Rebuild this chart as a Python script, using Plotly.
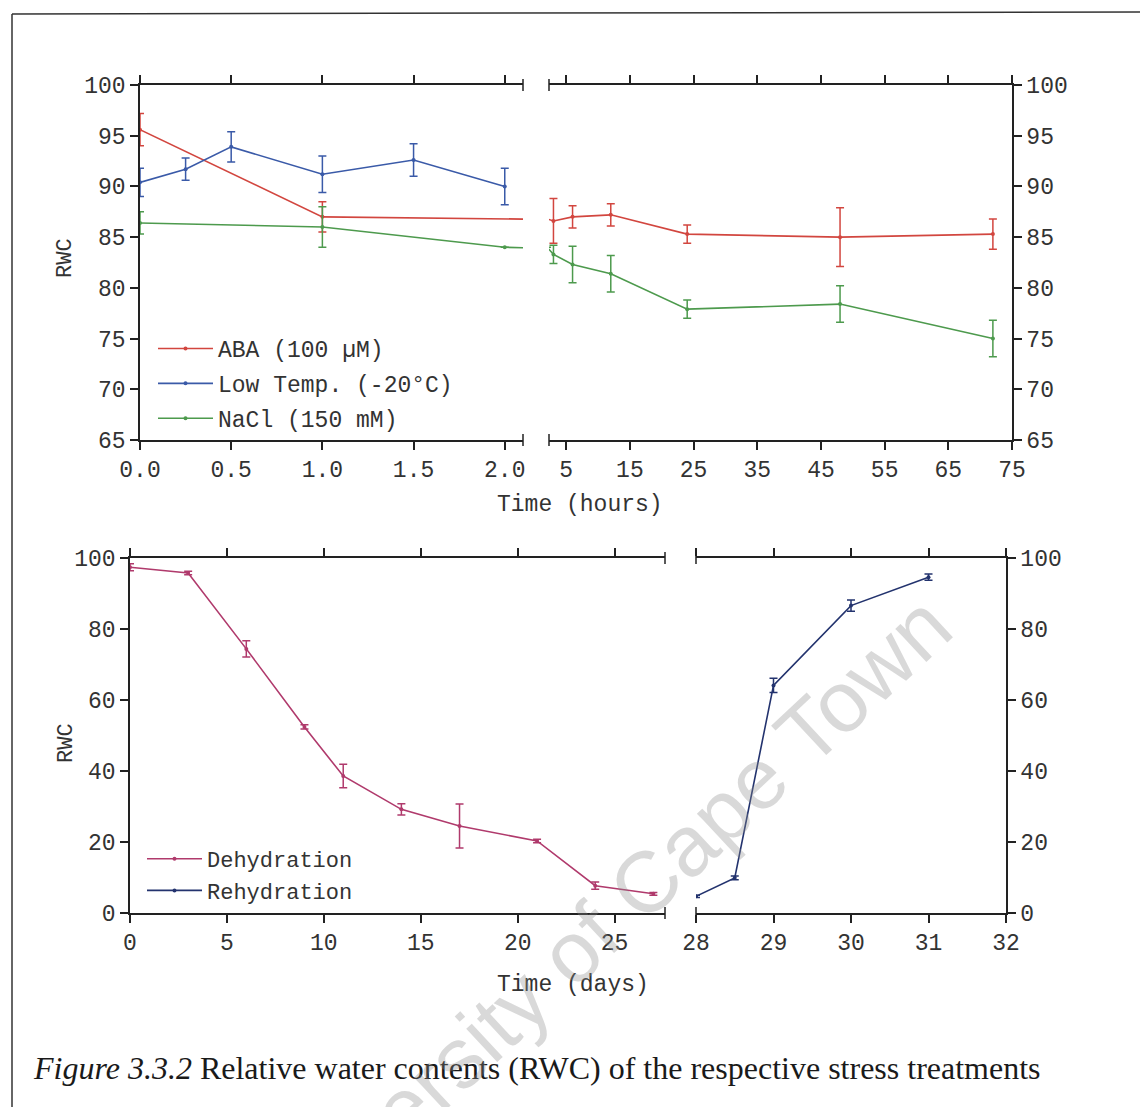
import plotly.graph_objects as go

# ---------------- data ----------------
hours_aba = [0, 1, 3, 6, 12, 24, 48, 72]
aba_rwc = [95.6, 87.0, 86.6, 87.0, 87.2, 85.3, 85.0, 85.3]
aba_err = [1.6, 1.5, 2.2, 1.1, 1.1, 0.9, 2.9, 1.5]

hours_lt = [0, 0.25, 0.5, 1.0, 1.5, 2.0]
lt_rwc = [90.4, 91.7, 93.9, 91.2, 92.6, 90.0]
lt_err = [1.4, 1.1, 1.5, 1.8, 1.6, 1.8]

hours_nacl = [0, 1, 2, 3, 6, 12, 24, 48, 72]
nacl_rwc = [86.4, 86.0, 84.0, 83.3, 82.3, 81.4, 77.9, 78.4, 75.0]
nacl_err = [1.1, 2.0, 0.0, 0.9, 1.8, 1.8, 0.9, 1.8, 1.8]

days_dehyd = [0, 3, 6, 9, 11, 14, 17, 21, 24, 27]
dehyd_rwc = [97.4, 95.8, 74.4, 52.4, 38.6, 29.2, 24.5, 20.3, 7.7, 5.4]
dehyd_err = [1.0, 0.5, 2.3, 0.6, 3.3, 1.6, 6.2, 0.5, 1.0, 0.4]

days_rehyd = [28, 28.5, 29, 30, 31]
rehyd_rwc = [4.7, 9.9, 64.1, 86.6, 94.6]
rehyd_err = [0.3, 0.5, 2.0, 1.6, 0.9]

names_top = ["ABA (100 \u00b5M)", "Low Temp. (-20\u00b0C)", "NaCl (150 mM)"]
names_bot = ["Dehydration", "Rehydration"]

c_aba = "#d2463f"
c_lt = "#3a5aa8"
c_nacl = "#4d9a4d"
c_de = "#b03a6c"
c_re = "#23336e"

W, H = 1140, 1107
def px(v): return v / W
def py(v): return 1 - v / H

MONO = "Liberation Mono"
FS = 23

fig = go.Figure()

def add(xs, ys, err, color, name, xa, ya, show, legend, group):
    fig.add_trace(go.Scatter(
        x=xs, y=ys, mode="lines+markers", name=name,
        line=dict(color=color, width=1.6),
        marker=dict(size=4, color=color),
        error_y=dict(type="data", array=err, color=color, thickness=1.5, width=4),
        xaxis=xa, yaxis=ya, showlegend=show, legend=legend, legendgroup=group))

# top chart: left and right panels (broken axis)
add(hours_aba, aba_rwc, aba_err, c_aba, names_top[0], "x", "y", True, "legend", "a")
add(hours_lt, lt_rwc, lt_err, c_lt, names_top[1], "x", "y", True, "legend", "b")
add(hours_nacl, nacl_rwc, nacl_err, c_nacl, names_top[2], "x", "y", True, "legend", "c")
add(hours_aba, aba_rwc, aba_err, c_aba, names_top[0], "x2", "y2", False, "legend", "a")
add(hours_nacl, nacl_rwc, nacl_err, c_nacl, names_top[2], "x2", "y2", False, "legend", "c")
# bottom chart
add(days_dehyd, dehyd_rwc, dehyd_err, c_de, names_bot[0], "x3", "y3", True, "legend2", "d")
add(days_rehyd, rehyd_rwc, rehyd_err, c_re, names_bot[1], "x4", "y4", True, "legend2", "e")

ax = dict(showline=True, linecolor="#222", linewidth=1.5, ticks="outside", ticklen=8,
          tickwidth=1.5, tickcolor="#222", showgrid=False, zeroline=False, automargin=False,
          tickfont=dict(family=MONO, size=FS, color="#333"))

top_y = [py(440), py(85)]
bot_y = [py(913), py(558)]

fig.update_layout(
    width=W, height=H, margin=dict(l=0, r=0, t=0, b=0, autoexpand=False),
    plot_bgcolor="white", paper_bgcolor="white",
    xaxis=dict(ax, domain=[px(140), px(523)], range=[0, 2.1], anchor="y", mirror="ticks",
               tickvals=[0, 0.5, 1.0, 1.5, 2.0], tickformat=".1f"),
    yaxis=dict(ax, domain=top_y, range=[65, 100], anchor="x", tickvals=list(range(65, 101, 5))),
    xaxis2=dict(ax, domain=[px(549), px(1012)], range=[2.3, 75], anchor="y2", mirror="ticks",
                tickvals=list(range(5, 76, 10))),
    yaxis2=dict(ax, domain=top_y, range=[65, 100], anchor="x2", side="right",
                tickvals=list(range(65, 101, 5))),
    xaxis3=dict(ax, domain=[px(130), px(665)], range=[0, 27.6], anchor="y3", mirror="ticks",
                tickvals=list(range(0, 26, 5))),
    yaxis3=dict(ax, domain=bot_y, range=[0, 100], anchor="x3", tickvals=list(range(0, 101, 20))),
    xaxis4=dict(ax, domain=[px(696), px(1006)], range=[28, 32], anchor="y4", mirror="ticks",
                tickvals=[28, 29, 30, 31, 32]),
    yaxis4=dict(ax, domain=bot_y, range=[0, 100], anchor="x4", side="right",
                tickvals=list(range(0, 101, 20))),
    legend=dict(x=px(153), y=py(327), xanchor="left", yanchor="top",
                font=dict(family=MONO, size=FS, color="#333"), itemwidth=55,
                tracegroupgap=2, bgcolor="rgba(0,0,0,0)"),
    legend2=dict(x=px(142), y=py(838), xanchor="left", yanchor="top",
                 font=dict(family=MONO, size=22, color="#333"), itemwidth=55,
                 tracegroupgap=0, bgcolor="rgba(0,0,0,0)"),
)

ann = []
ann.append(dict(text="Time (hours)", x=px(580), y=py(505), xref="paper", yref="paper",
                xanchor="center", yanchor="middle",
                showarrow=False, font=dict(family=MONO, size=FS, color="#333")))
ann.append(dict(text="Time (days)", x=px(573), y=py(985), xref="paper", yref="paper",
                xanchor="center", yanchor="middle",
                showarrow=False, font=dict(family=MONO, size=FS, color="#333")))
ann.append(dict(text="RWC", x=px(66), y=py(258), xref="paper", yref="paper", textangle=-90,
                xanchor="center", yanchor="middle",
                showarrow=False, font=dict(family=MONO, size=22, color="#333")))
ann.append(dict(text="RWC", x=px(66), y=py(743), xref="paper", yref="paper", textangle=-90,
                xanchor="center", yanchor="middle",
                showarrow=False, font=dict(family=MONO, size=22, color="#333")))
ann.append(dict(text="<i>Figure 3.3.2</i> Relative water contents (RWC) of the respective stress treatments",
                x=px(31), y=py(1068), xref="paper", yref="paper", xanchor="left", yanchor="middle",
                showarrow=False, font=dict(family="Liberation Serif", size=32, color="#1a1a1a")))
ann.append(dict(text="University of Cape Town", x=px(598), y=py(927), xref="paper", yref="paper",
                xanchor="center", yanchor="middle", textangle=-43, showarrow=False,
                font=dict(family="Liberation Sans", size=86, color="rgba(140,140,140,0.33)")))
fig.update_layout(annotations=ann)

shapes = []
# outer frame
shapes.append(dict(type="line", xref="paper", yref="paper", x0=px(12), y0=py(14), x1=1, y1=py(12),
                   line=dict(color="#333", width=1.5)))
shapes.append(dict(type="line", xref="paper", yref="paper", x0=px(12), y0=py(14), x1=px(12), y1=0,
                   line=dict(color="#333", width=1.5)))
# axis-break end marks
for xr, yr, side in [("x", "y", 1), ("x2", "y2", 0), ("x3", "y3", 1), ("x4", "y4", 0)]:
    for yd in (0, 1):
        shapes.append(dict(type="line", xref=xr + " domain", yref=yr + " domain",
                           x0=side, x1=side, ysizemode="pixel", yanchor=yd, y0=-6, y1=6,
                           line=dict(color="#222", width=1.5)))
fig.update_layout(shapes=shapes)

fig.write_html("out.html", config={"displayModeBar": False},
               post_script="document.body.style.margin='0';document.body.style.overflow='hidden';")
